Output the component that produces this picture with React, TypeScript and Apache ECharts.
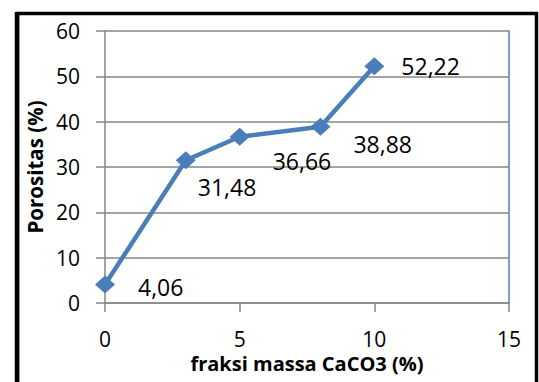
import React, { useEffect, useRef } from "react";
import * as echarts from "echarts";

// CaCO3 mass fraction (%) and measured porosity (%)
const massFraction = [0, 3, 5, 8, 10];
const porosity = [4.06, 31.48, 36.66, 38.88, 52.22];
// where each value label sits relative to its marker
const labelOffsets: [number, number][] = [
  [23, 2],
  [2, 27],
  [23, 24],
  [23, 17],
  [17, 0],
];

const xTicks = { min: 0, max: 15, interval: 5 };
const yTicks = { min: 0, max: 60, interval: 10 };

const FONT = "'Open Sans', 'Liberation Sans', sans-serif";
const GRAY = "#868686";
const BLUE = "#4A7EBB";

export default function App() {
  const ref = useRef<HTMLDivElement>(null);

  useEffect(() => {
    if (!ref.current) return;
    const chart = echarts.init(ref.current, undefined, { renderer: "svg" });

    const fmt = (v: number) => v.toFixed(2).replace(".", ",");

    chart.setOption({
      animation: false,
      backgroundColor: "#ffffff",
      textStyle: { fontFamily: FONT },
      grid: { left: 105, right: 30, top: 31, bottom: 79 },
      graphic: [
        {
          type: "rect",
          shape: { x: 17.5, y: 13.5, width: 519, height: 400 },
          style: { fill: "none", stroke: "#000", lineWidth: 3.5 },
          silent: true,
          z: 100,
        },
        {
          type: "line",
          shape: { x1: 17, y1: 12, x2: 17, y2: 382 },
          style: { stroke: "#000", lineWidth: 4.5 },
          silent: true,
          z: 100,
        },
      ],
      xAxis: {
        type: "value",
        min: xTicks.min,
        max: xTicks.max,
        interval: xTicks.interval,
        name: "fraksi massa CaCO3 (%)",
        nameLocation: "middle",
        nameGap: 50,
        nameTextStyle: { fontFamily: FONT, fontWeight: "bold", fontSize: 20, color: "#000" },
        axisLine: { show: true, onZero: false, lineStyle: { color: GRAY, width: 1.5 } },
        axisTick: { show: true, inside: false, length: 9, lineStyle: { color: GRAY, width: 1.5 } },
        axisLabel: { margin: 25, fontSize: 21, color: "#000", fontFamily: FONT },
        splitLine: { show: false },
      },
      yAxis: [
        {
          type: "value",
          min: yTicks.min,
          max: yTicks.max,
          interval: yTicks.interval,
          name: "Porositas (%)",
          nameLocation: "middle",
          nameGap: 57,
          nameTextStyle: { fontFamily: FONT, fontWeight: "bold", fontSize: 20.5, color: "#000" },
          axisLine: { show: true, lineStyle: { color: GRAY, width: 1.5 } },
          axisTick: { show: true, inside: false, length: 9, lineStyle: { color: GRAY, width: 1.5 } },
          axisLabel: { margin: 25, fontSize: 21, color: "#000", fontFamily: FONT },
          splitLine: { show: true, lineStyle: { color: GRAY, width: 1.5 } },
        },
        {
          type: "value",
          position: "right",
          min: yTicks.min,
          max: yTicks.max,
          interval: yTicks.interval,
          axisLine: { show: true, lineStyle: { color: "#4F81BD", width: 1.5 } },
          axisTick: { show: false },
          axisLabel: { show: false },
          splitLine: { show: false },
        },
      ],
      series: [
        {
          type: "line",
          yAxisIndex: 0,
          data: massFraction.map((x, i) => ({
            value: [x, porosity[i]],
            label: { offset: labelOffsets[i] },
          })),
          symbol: "diamond",
          symbolSize: [20, 18],
          itemStyle: { color: BLUE },
          lineStyle: { color: BLUE, width: 4.5 },
          label: {
            show: true,
            position: "right",
            distance: 0,
            fontSize: 23,
            color: "#000",
            fontFamily: FONT,
            formatter: (p: any) => fmt(p.value[1]),
          },
          z: 5,
        },
      ],
    });

    return () => chart.dispose();
  }, []);

  return (
    <div
      ref={ref}
      style={{ position: "fixed", left: 0, top: 0, width: 539, height: 382 }}
    />
  );
}
